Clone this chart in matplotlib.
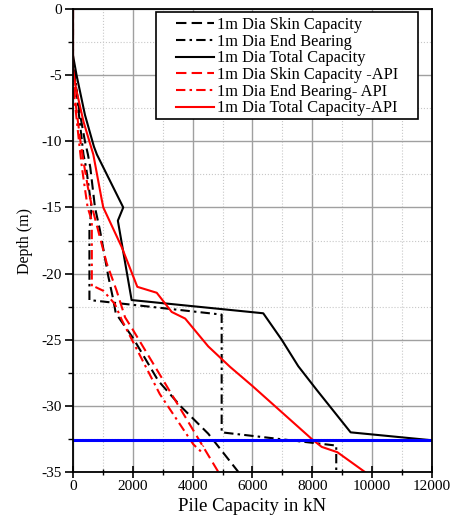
import matplotlib
matplotlib.use("Agg")
import matplotlib.pyplot as plt
from matplotlib.ticker import MultipleLocator
from matplotlib.patches import Rectangle

plt.rcParams['font.family'] = ['Liberation Serif', 'DejaVu Serif']
plt.rcParams['axes.unicode_minus'] = False

# ---- data (capacity kN, depth m) ----
skin_x = [0, 0, 50, 200, 400, 500, 580, 735, 900, 1180, 1350, 1430, 2016, 2850, 3630, 4520, 5530]
skin_y = [0, -4, -5, -7.5, -10, -11, -12, -15, -16.7, -20.2, -22, -23, -24.9, -28.1, -30.1, -32.1, -35]

end_x = [0, 0, 70, 200, 300, 350, 440, 620, 550, 550, 4970, 4970, 8800, 8800]
end_y = [0, -4, -5, -8, -10, -11, -12, -15, -16.7, -22, -23.1, -32, -33, -35]

total_x = [0, 0, 120, 400, 700, 800, 1020, 1680, 1500, 1960, 6360, 6977, 7530, 8150, 9280, 12000]
total_y = [0, -3.5, -5, -8, -10.4, -11, -12, -15, -16, -22, -23, -25, -27, -28.8, -32, -32.6]

skin_api_x = [0, 0, 80, 250, 350, 500, 640, 1125, 1460, 1740, 2016, 4860]
skin_api_y = [0, -5, -7, -10, -11.5, -13.5, -15, -19.2, -21.3, -23.3, -24.3, -35]

end_api_x = [0, 0, 60, 200, 300, 490, 630, 630, 735, 1015, 1400, 1630, 2900, 4020, 4250, 4360]
end_api_y = [0, -5, -7, -10, -12, -15, -16, -21, -21, -21.3, -22.3, -23.5, -29.1, -32.9, -33.4, -33.0]

total_api_x = [0, 0, 100, 350, 680, 960, 1013, 1630, 2150, 2800, 3300, 3750, 4520, 5250, 6000, 7980, 8314, 8836, 9760]
total_api_y = [0, -4.5, -6, -8.5, -11, -14.4, -15, -18, -21, -21.45, -22.9, -23.4, -25.5, -27.05, -28.5, -32.5, -33.1, -33.5, -35]

ref_depth = -32.6

labels = ["1m Dia Skin Capacity", "1m Dia End Bearing", "1m Dia Total Capacity",
          "1m Dia Skin Capacity -API", "1m Dia End Bearing- API", "1m Dia Total Capacity-API"]

W, H = 453, 521
fig = plt.figure(figsize=(W / 100, H / 100), dpi=100)
ax = fig.add_axes([0.1611, 0.094, 0.7925, 0.8887])

dash = (5, 2.5)
dashdot = (4.5, 2, 1.2, 2)
lw = 1.5

ax.plot(skin_x, skin_y, color='black', lw=lw, dashes=dash, label=labels[0])
ax.plot(end_x, end_y, color='black', lw=lw, dashes=dashdot, label=labels[1])
ax.plot(total_x, total_y, color='black', lw=lw, label=labels[2])
ax.plot(skin_api_x, skin_api_y, color='#ff0000', lw=lw, dashes=dash, label=labels[3])
ax.plot(end_api_x, end_api_y, color='#ff0000', lw=lw, dashes=dashdot, label=labels[4])
ax.plot(total_api_x, total_api_y, color='#ff0000', lw=lw, label=labels[5])
ax.axhline(ref_depth, color='#0000ff', lw=2.2)

ax.set_xlim(0, 12000)
ax.set_ylim(-35, 0)
ax.xaxis.set_major_locator(MultipleLocator(2000))
ax.xaxis.set_minor_locator(MultipleLocator(1000))
ax.yaxis.set_major_locator(MultipleLocator(5))
ax.yaxis.set_minor_locator(MultipleLocator(2.5))

ax.grid(True, which='major', color='#a0a0a0', lw=1.0, ls='-')
ax.grid(True, which='minor', color='#c8c8c8', lw=0.8, ls=':')
ax.set_axisbelow(True)

ax.tick_params(axis='x', which='major', direction='inout', length=8, width=1.2, labelsize=11, pad=2)
ax.tick_params(axis='x', which='minor', direction='inout', length=5, width=1.0)
ax.tick_params(axis='y', which='major', direction='out', length=6, width=1.2, labelsize=11, pad=2)
ax.tick_params(axis='y', which='minor', direction='out', length=3.5, width=1.0)
for s in ax.spines.values():
    s.set_linewidth(1.3)

ax.set_xlabel("Pile Capacity in kN", fontsize=13.5, labelpad=3)
ax.set_ylabel("Depth (m)", fontsize=11.5, labelpad=6)

# legend frame drawn separately (wider padding than legend allows)
frame = Rectangle((156 / W, 1 - 119 / H), (418 - 156) / W, (119 - 12) / H,
                  transform=fig.transFigure, facecolor='white', edgecolor='black',
                  lw=1.2, zorder=4)
ax.add_patch(frame)
frame.set_clip_on(False)

leg = ax.legend(loc='upper left', bbox_to_anchor=(176 / W, 1 - 17 / H),
                bbox_transform=fig.transFigure, fontsize=11.8, frameon=False,
                handlelength=2.3, labelspacing=0.04, borderpad=0, handletextpad=0.2,
                borderaxespad=0)
leg.set_zorder(5)

fig.savefig("out.png", dpi=100)
